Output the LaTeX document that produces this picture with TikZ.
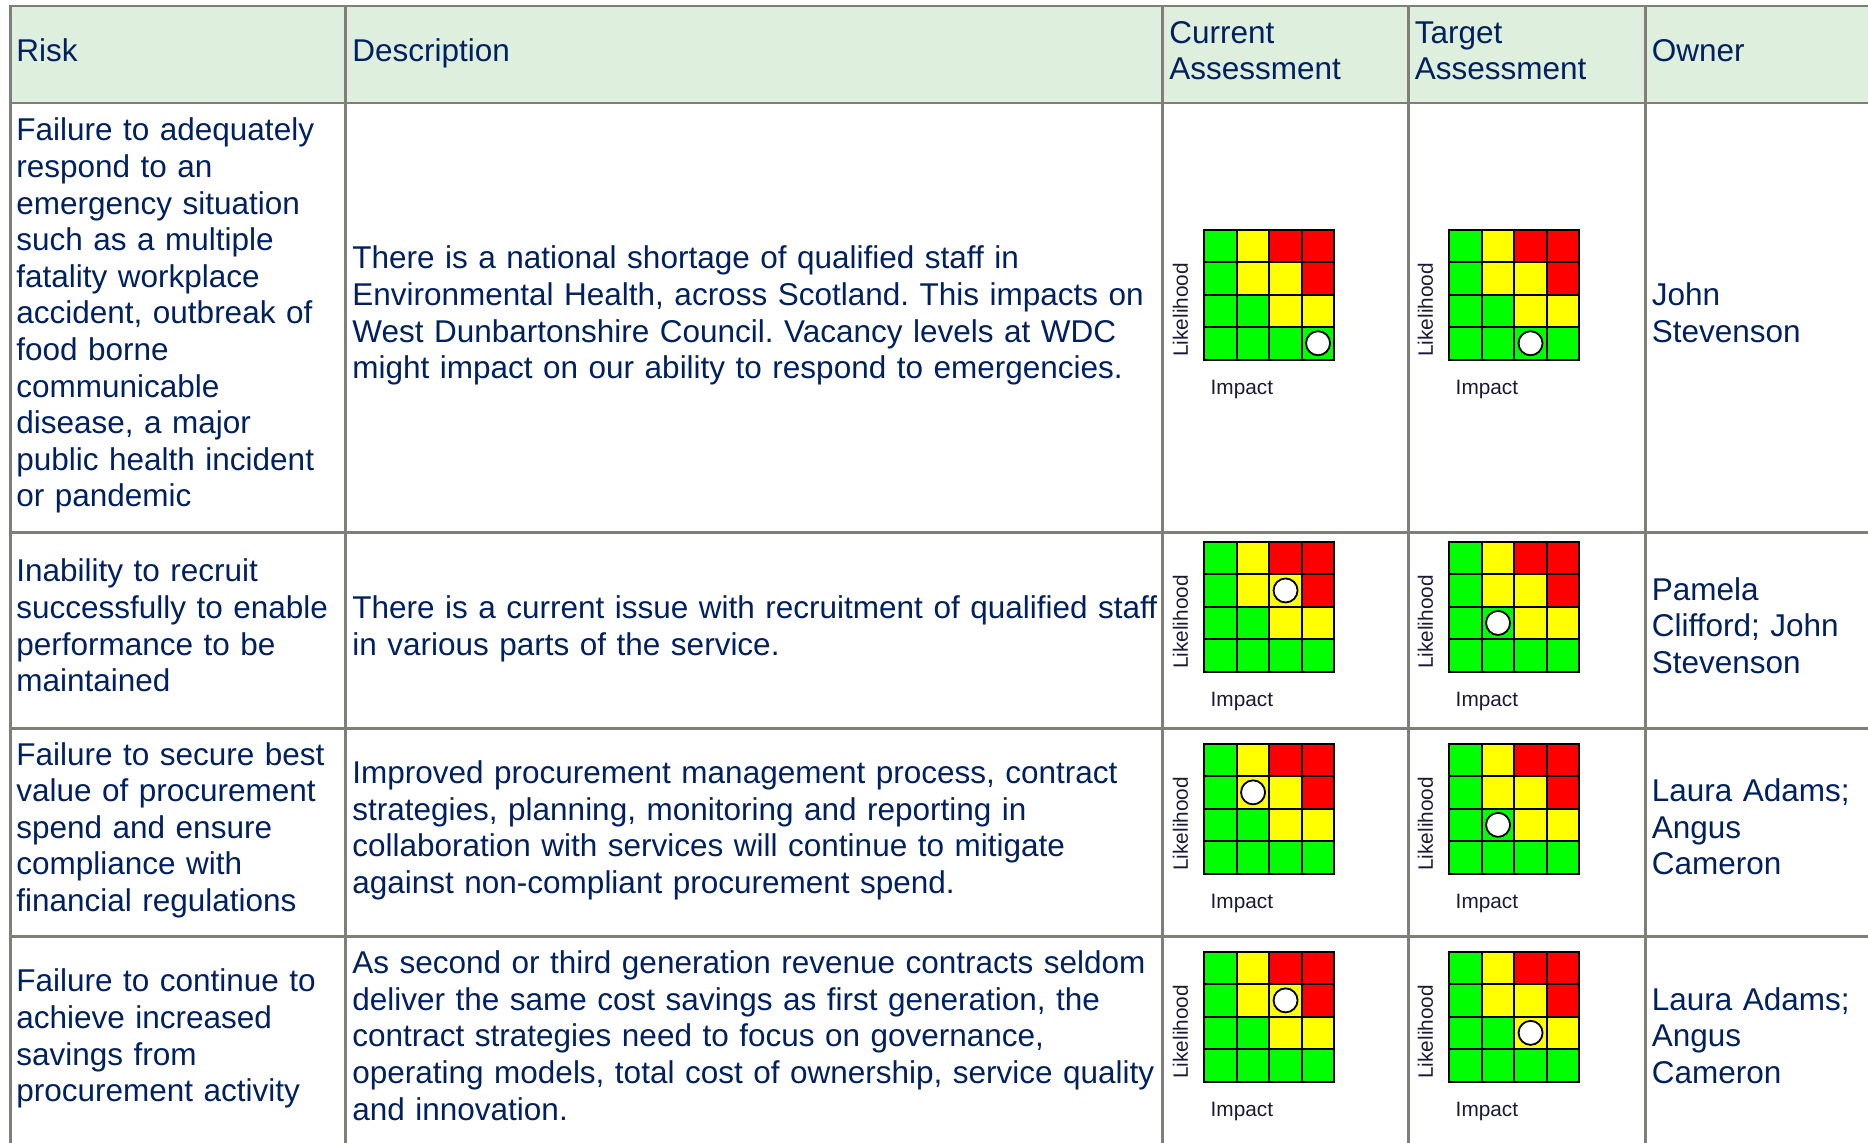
\documentclass[tikz,border=0pt]{standalone}
\usepackage{fontspec}
\setmainfont{Liberation Sans}
\usepackage[HTML]{xcolor}
\usepackage{tikz}
\usetikzlibrary{positioning}
\frenchspacing

\definecolor{tabline}{HTML}{7F7F77}
\definecolor{headfill}{HTML}{DEEFDE}
\definecolor{navy}{HTML}{002060}
\definecolor{axtext}{HTML}{1A1A33}
\definecolor{hgreen}{HTML}{00FF00}
\definecolor{hyellow}{HTML}{FFFF00}
\definecolor{hred}{HTML}{FF0000}

\tikzset{
  tabrule/.style={line width=1.35pt, tabline, line cap=rect},
  celltxt/.style={anchor=base west, inner sep=0pt, align=left, text=navy,
    font=\fontsize{15.75}{18.3}\selectfont},
  riskcol/.style={celltxt, text width=166pt},
  desccol/.style={celltxt, text width=430pt},
  asscol/.style={celltxt, text width=115pt},
  owncol/.style={celltxt, text width=110pt},
  gridln/.style={line width=1pt, black},
  riskdot/.style={circle, draw=black, fill=white, line width=0.9pt,
    minimum size=12pt, inner sep=0pt},
  axlbl/.style={inner sep=0pt, text=axtext, font=\fontsize{10.4}{12}\selectfont}
}

% 4x4 heat map: #1 name, #2/#3 top left corner, #4 impact column, #5 likelihood row (from top)
\newcommand{\riskgrid}[5]{%
  \foreach \clr [count=\k from 0] in {hgreen,hyellow,hred,hred,%
      hgreen,hyellow,hyellow,hred,hgreen,hgreen,hyellow,hyellow,%
      hgreen,hgreen,hgreen,hgreen}{%
    \pgfmathtruncatemacro{\cc}{mod(\k,4)}%
    \pgfmathtruncatemacro{\rr}{div(\k,4)}%
    \fill[\clr] ({#2+\cc*32.5},{#3+\rr*32.5}) rectangle ++(32.5,32.5);
  }%
  \foreach \i in {1,2,3}{%
    \draw[gridln] ({#2+\i*32.5},#3) -- ++(0,130);
    \draw[gridln] (#2,{#3+\i*32.5}) -- ++(130,0);
  }%
  \draw[gridln] (#2,#3) rectangle ++(130,130);
  \node[riskdot] (#1-dot) at ({#2+(#4-0.5)*32.5},{#3+(#5-0.5)*32.5}) {};
  \node[axlbl, rotate=90, anchor=west] (#1-lh) at ({#2-24},{#3+127.5}) {Likelihood};
  \node[axlbl, anchor=base west] (#1-im) at ({#2+6},{#3+165}) {Impact};
}

\begin{document}
\begin{tikzpicture}[x=0.5pt, y=-0.5pt]
\useasboundingbox (0,0) rectangle (1868,1142);

% Header band
\fill[headfill] (10.5,6) rectangle (1868,103);

% Table rules
\foreach \yy in {6,103,532.7,728.3,936.7}
  \draw[tabrule] (10.5,\yy) -- (1872,\yy);
\foreach \xx in {10.5,345.5,1162.7,1408.3,1645.3}
  \draw[tabrule] (\xx,6) -- (\xx,1146);

% Header row
\node[riskcol] (hrisk) at (16,61) {Risk};
\node[desccol] (hdesc) at (352,61) {Description};
\node[asscol] (hcur) at (1169,43.2) {Current\\Assessment};
\node[asscol] (htar) at (1414.5,43.2) {Target\\Assessment};
\node[owncol] (hown) at (1651.5,61) {Owner};

% Row 1
\node[riskcol] (risk1) at (16,140.8) {Failure to adequately\\respond to an\\emergency situation\\such as a multiple\\fatality workplace\\accident, outbreak of\\food borne\\communicable\\disease, a major\\public health incident\\or pandemic};
\node[desccol] (desc1) at (352,268.9) {There is a national shortage of qualified staff in\\Environmental Health, across Scotland. This impacts on\\West Dunbartonshire Council. Vacancy levels at WDC\\might impact on our ability to respond to emergencies.};
\riskgrid{cur1}{1204.3}{229.5}{4}{4}
\riskgrid{tar1}{1449.3}{229.5}{3}{4}
\node[owncol] (own1) at (1651.5,305.5) {John\\Stevenson};

% Row 2
\node[riskcol] (risk2) at (16,581.9) {Inability to recruit\\successfully to enable\\performance to be\\maintained};
\node[desccol] (desc2) at (352,618.5) {There is a current issue with recruitment of qualified staff\\in various parts of the service.};
\riskgrid{cur2}{1204.3}{541.7}{3}{2}
\riskgrid{tar2}{1449.3}{541.7}{2}{3}
\node[owncol] (own2) at (1651.5,600.2) {Pamela\\Clifford; John\\Stevenson};

% Row 3
\node[riskcol] (risk3) at (16,765.1) {Failure to secure best\\value of procurement\\spend and ensure\\compliance with\\financial regulations};
\node[desccol] (desc3) at (352,783.4) {Improved procurement management process, contract\\strategies, planning, monitoring and reporting in\\collaboration with services will continue to mitigate\\against non-compliant procurement spend.};
\riskgrid{cur3}{1204.3}{743.6}{2}{2}
\riskgrid{tar3}{1449.3}{743.6}{2}{3}
\node[owncol] (own3) at (1651.5,801.7) {Laura Adams;\\Angus\\Cameron};

% Row 4
\node[riskcol] (risk4) at (16,991.9) {Failure to continue to\\achieve increased\\savings from\\procurement activity};
\node[desccol] (desc4) at (352,973.6) {As second or third generation revenue contracts seldom\\deliver the same cost savings as first generation, the\\contract strategies need to focus on governance,\\operating models, total cost of ownership, service quality\\and innovation.};
\riskgrid{cur4}{1204.3}{951.6}{3}{2}
\riskgrid{tar4}{1449.3}{951.6}{3}{3}
\node[owncol] (own4) at (1651.5,1010.2) {Laura Adams;\\Angus\\Cameron};

\end{tikzpicture}
\end{document}
